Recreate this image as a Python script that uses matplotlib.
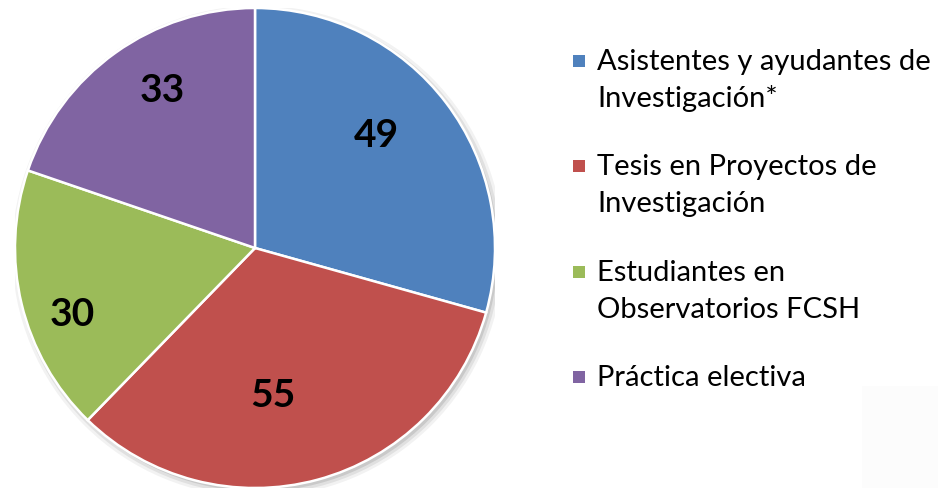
import numpy as np
import matplotlib
matplotlib.use('Agg')
import matplotlib.pyplot as plt
from matplotlib.patches import Rectangle, Circle

# datos del gráfico
categorias = ['Asistentes y ayudantes de\nInvestigación*',
              'Tesis en Proyectos de\nInvestigación',
              'Estudiantes en\nObservatorios FCSH',
              'Práctica electiva']
valores = [49, 55, 30, 33]
colores = ['#4F81BD', '#C0504D', '#9BBB59', '#8064A2']
# posición de las etiquetas dentro de cada sector (estilo)
dist_etiqueta = [0.69, 0.62, 0.81, 0.76]
giro_etiqueta = [5.8, -8.0, 6.5, -5.0]

plt.rcParams['font.family'] = ['Lato', 'DejaVu Sans']

W, H = 938, 488
fig = plt.figure(figsize=(W / 100, H / 100), dpi=100)

cx, cy, R = 255, 248, 240
ax = fig.add_axes([(cx - R) / W, (H - cy - R) / H, 2 * R / W, 2 * R / H])
ax.set_aspect('equal')
ax.axis('off')

# sombra suave
for k, a in enumerate([0.05, 0.07, 0.10]):
    ax.add_patch(Circle((0.012, -0.014), 1.0 + 0.012 * (2 - k), color='#000000',
                        alpha=a, lw=0, zorder=0))

wedges, _ = ax.pie(valores, colors=colores, startangle=90, counterclock=False,
                   radius=1.0,
                   wedgeprops=dict(edgecolor='white', linewidth=1.8))
for w in wedges:
    w.set_zorder(2)

total = sum(valores)
acum = 0
for v, d, g in zip(valores, dist_etiqueta, giro_etiqueta):
    medio = 90 - (acum + v / 2) / total * 360 + g
    acum += v
    t = np.deg2rad(medio)
    ax.text(d * np.cos(t), d * np.sin(t), str(v), ha='center', va='center',
            fontsize=28, fontweight='bold', color='black', zorder=3)

ax.set_xlim(-1.0, 1.0)
ax.set_ylim(-1.0, 1.0)

# leyenda manual
y0, paso, interlinea = 62, 105.3, 37
for i, (lab, c) in enumerate(zip(categorias, colores)):
    y = y0 + i * paso
    fig.patches.append(Rectangle((573 / W, (H - y - 5) / H), 12 / W, 12 / H,
                                 transform=fig.transFigure, facecolor=c,
                                 edgecolor='none', figure=fig))
    for j, linea in enumerate(lab.split('\n')):
        fig.text(597 / W, (H - y - j * interlinea) / H, linea, ha='left',
                 va='center', fontsize=21, color='black')

fig.patches.append(Rectangle((862 / W, 0), 76 / W, 102 / H,
                             transform=fig.transFigure, facecolor='#fcfcfc',
                             edgecolor='none', figure=fig, zorder=-1))

fig.savefig('out.png', dpi=100)
